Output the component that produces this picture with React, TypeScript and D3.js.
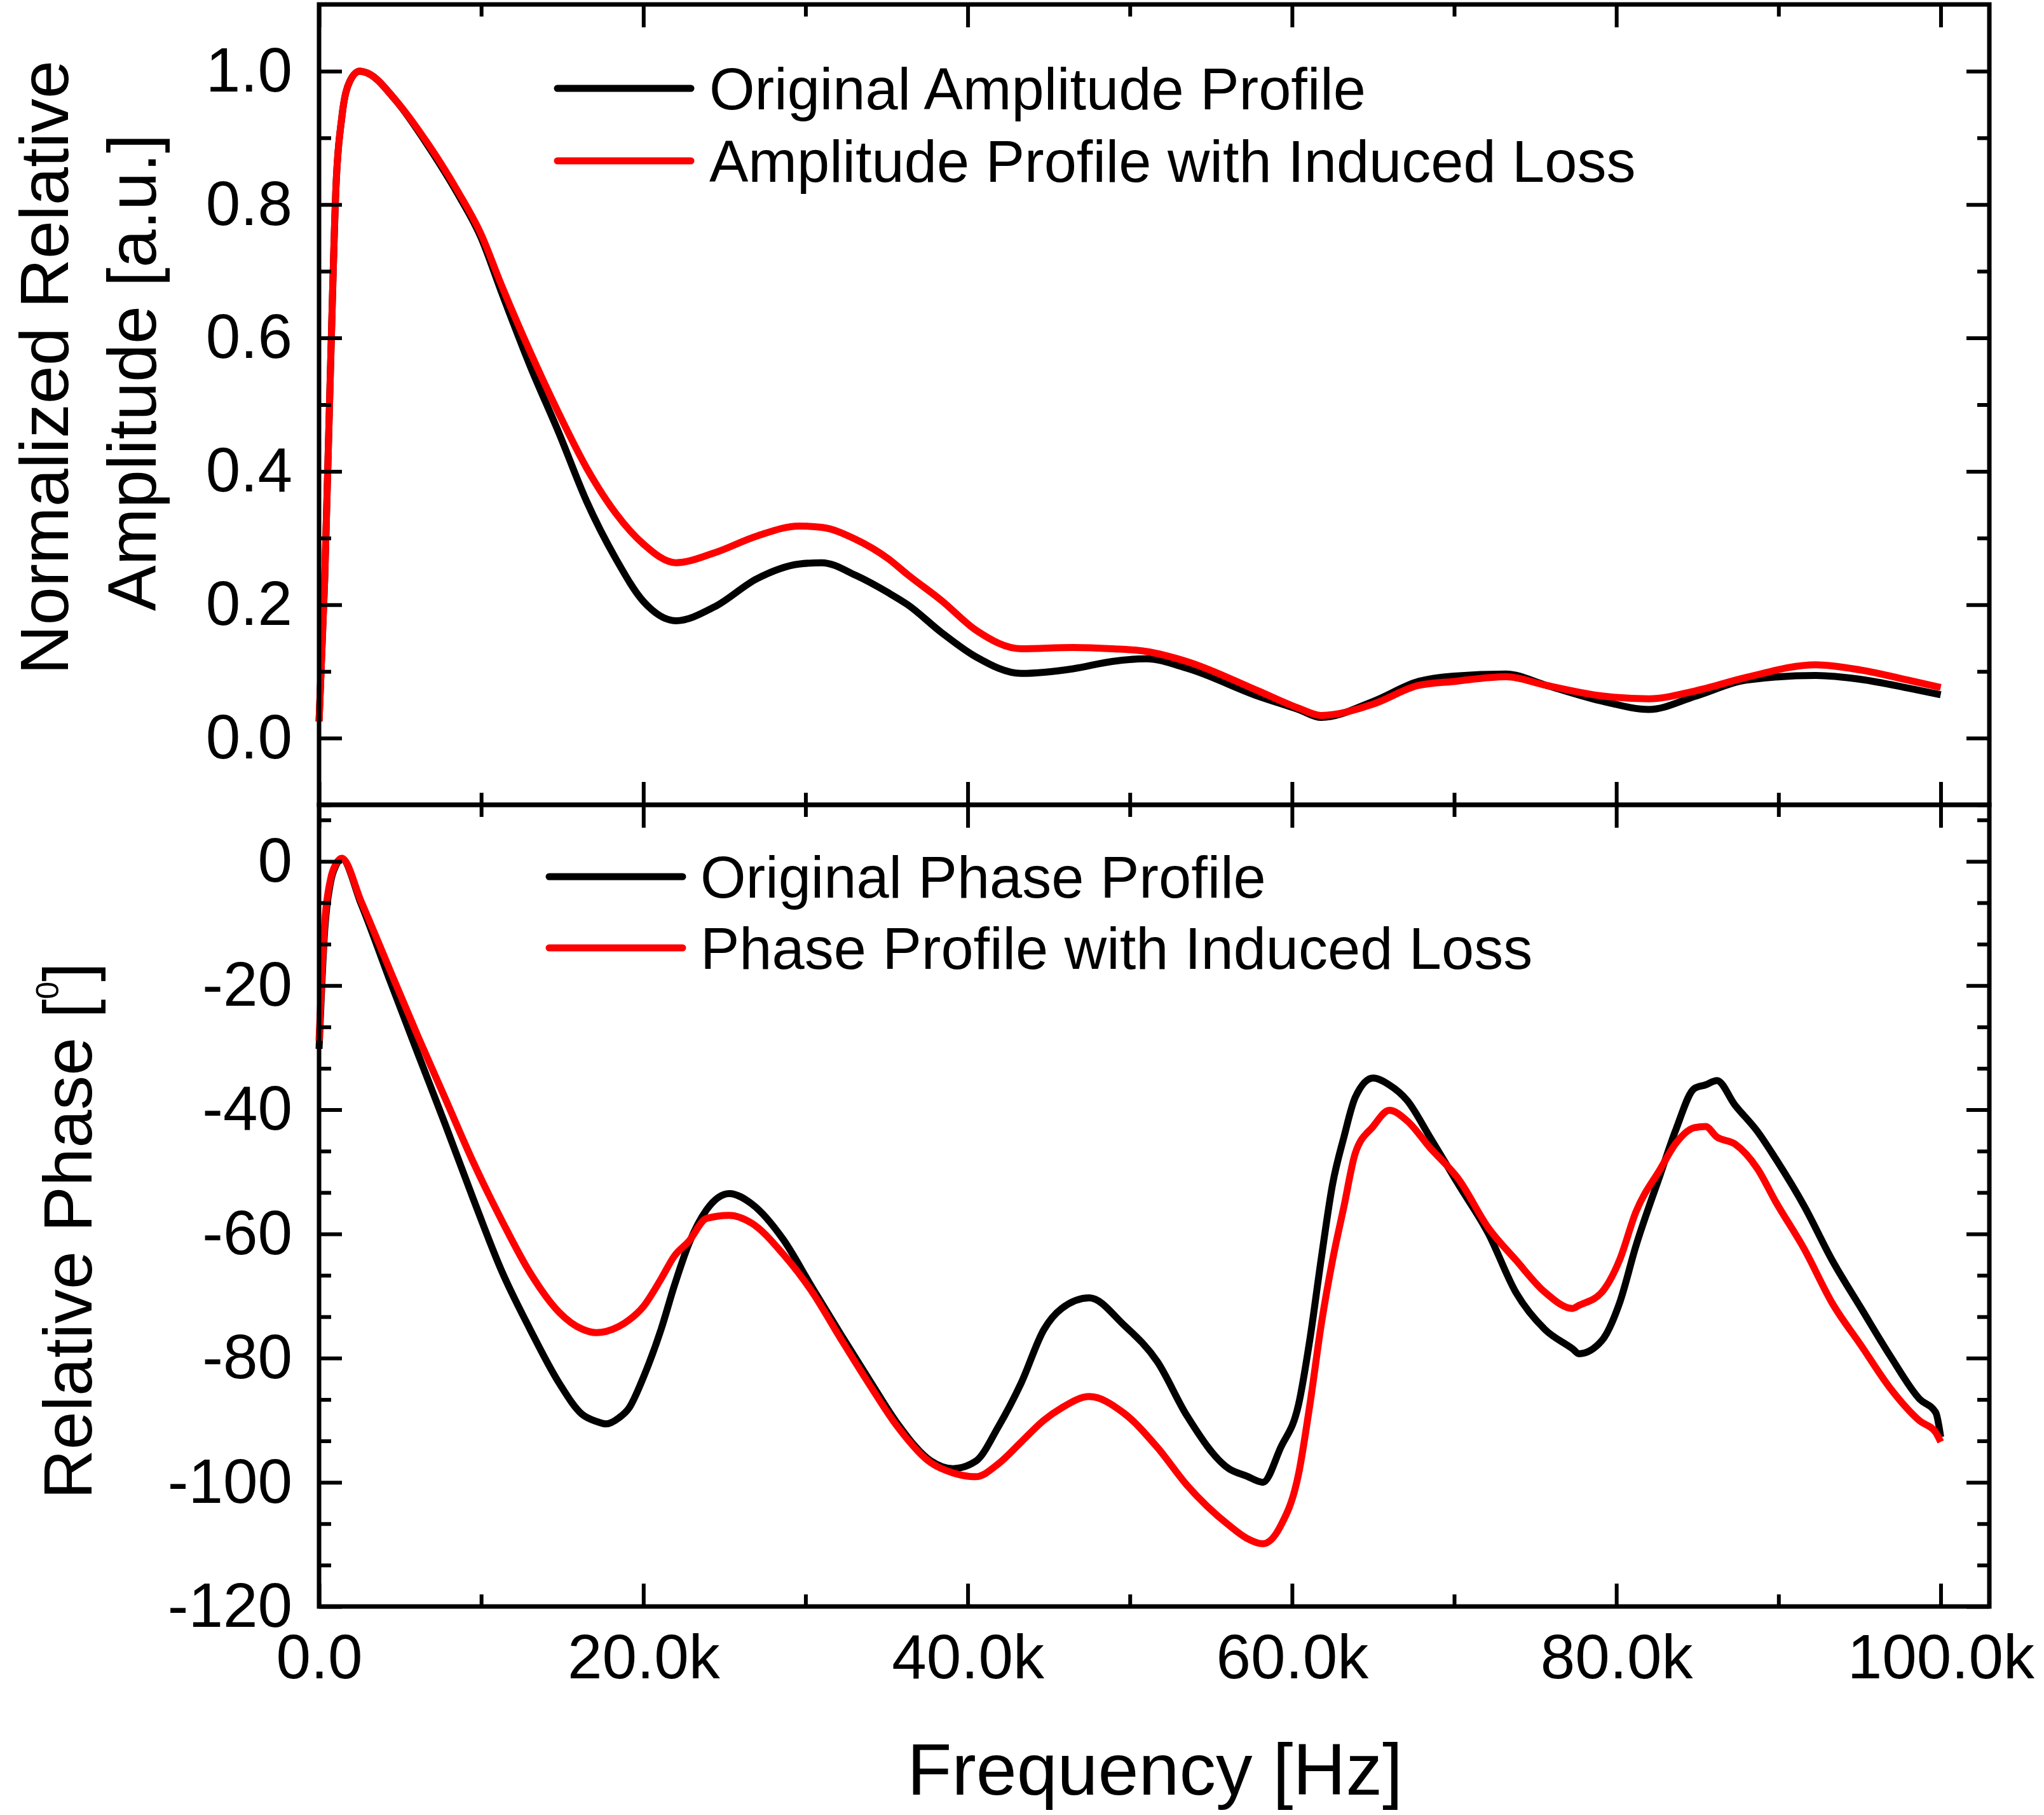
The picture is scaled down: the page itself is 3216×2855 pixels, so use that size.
import React, { useEffect, useRef } from 'react';
import * as d3 from 'd3';

// frequency grid in kHz
const ampFreq = [0, 0.35, 0.7, 1.05, 1.4, 1.9, 2.5, 3.0, 4.7, 6.8, 8.6, 10, 11.2, 13.0, 14.8, 16.5, 18.3, 20.0, 22.0, 24.4, 27.0, 29.6, 31, 33.1, 35.1, 36.3, 38.4, 40.5, 43.3, 46.5, 48.9, 51, 53.5, 57.9, 60.4, 61.8, 65, 67.8, 70, 73.2, 75.7, 79.2, 82, 84.9, 88, 92.3, 95.1, 98, 100];
const ampOriginal = [0.025, 0.24, 0.55, 0.83, 0.93, 0.985, 1.0, 0.997, 0.957, 0.885, 0.814, 0.75, 0.672, 0.559, 0.457, 0.355, 0.269, 0.205, 0.176, 0.197, 0.239, 0.261, 0.263, 0.244, 0.218, 0.2, 0.158, 0.122, 0.097, 0.104, 0.115, 0.119, 0.105, 0.063, 0.043, 0.031, 0.055, 0.085, 0.093, 0.096, 0.079, 0.055, 0.043, 0.063, 0.087, 0.094, 0.088, 0.075, 0.065];
const ampLoss = [0.025, 0.24, 0.55, 0.83, 0.93, 0.985, 1.0, 0.997, 0.957, 0.888, 0.818, 0.755, 0.682, 0.58, 0.486, 0.405, 0.337, 0.291, 0.263, 0.278, 0.303, 0.318, 0.316, 0.298, 0.269, 0.245, 0.206, 0.162, 0.134, 0.136, 0.134, 0.13, 0.115, 0.071, 0.045, 0.034, 0.051, 0.079, 0.085, 0.092, 0.079, 0.063, 0.059, 0.071, 0.091, 0.11, 0.102, 0.087, 0.076];

const phaseFreq = [0, 0.35, 0.7, 1.05, 1.4, 2.6, 4.4, 6.1, 7.8, 9.5, 11.3, 13.0, 14.8, 16.2, 17.1, 17.7, 18.5, 19.1, 20.0, 21.1, 21.9, 22.8, 23.9, 25.3, 26.7, 28.6, 30.4, 32.2, 34.0, 35.6, 37.7, 39.1, 40.5, 41.9, 43.3, 44.7, 45.8, 47.5, 49.6, 51.7, 53.5, 56.1, 57.2, 58.2, 59.3, 60.4, 61.1, 61.8, 62.5, 63.2, 63.9, 65, 66, 67.1, 68.5, 70.3, 72.1, 73.8, 75.6, 77.3, 77.7, 79.1, 80.2, 81.2, 82.7, 83.7, 84.8, 85.5, 86.2, 87.3, 88.7, 89.8, 91.6, 93.3, 95.1, 96.9, 98.7, 99.7, 100];
const phaseOriginal = [-30.2, -11, -3.5, -0.6, 0.4, -6.9, -19.4, -31, -42.5, -54.3, -66.2, -75.3, -84.0, -89.0, -90.2, -90.6, -89.6, -88.1, -83.1, -75.3, -68.4, -61.6, -56.1, -53.5, -55.2, -60.8, -68.6, -76.3, -83.8, -90.3, -96.5, -97.8, -96.6, -91, -84, -75.4, -72, -70.3, -74.6, -80.6, -89.2, -97.8, -99, -100, -94.4, -87.5, -77, -64, -52, -44.4, -38, -34.9, -36, -38.5, -44.4, -52.2, -59.9, -69.4, -75.4, -78.5, -79.3, -77.2, -71.1, -62, -50.5, -43, -36.6, -36, -35.3, -39.2, -43.5, -47.8, -55.6, -64.2, -72, -79.7, -86.6, -88.8, -92.7];
const phaseLoss = [-28.9, -9.9, -3, -0.4, 0.5, -6.5, -17.7, -28.2, -38.3, -48.4, -58.0, -66.2, -72.6, -75.3, -75.9, -75.7, -74.9, -73.9, -71.7, -67.2, -63.6, -61.2, -57.5, -57.0, -58.3, -63.2, -69.3, -77.0, -84.5, -90.8, -96.8, -98.5, -99.1, -97, -93.5, -90, -88, -86.2, -88.8, -94.4, -100.4, -106.9, -109, -109.9, -107, -98.7, -87.5, -74.6, -64.2, -55.6, -47, -42.7, -40.1, -41.8, -46.1, -51.3, -59, -64.2, -69.4, -72, -71.5, -69.4, -64.2, -56.5, -49.6, -45.3, -42.9, -42.7, -44.4, -45.5, -49.5, -54.7, -62.5, -71.1, -78, -84.9, -90.1, -92, -93.5];

const xMajor = [0, 20000, 40000, 60000, 80000, 100000];
const xMinor = [10000, 30000, 50000, 70000, 90000];
const ampMajor = [0, 0.2, 0.4, 0.6, 0.8, 1.0];
const ampMinor = [-0.1, 0.1, 0.3, 0.5, 0.7, 0.9];
const phaseMajor = [-120, -100, -80, -60, -40, -20, 0];

const ampLegend = ['Original Amplitude Profile', 'Amplitude Profile with Induced Loss'];
const phaseLegend = ['Original Phase Profile', 'Phase Profile with Induced Loss'];
const colors = ['#000000', '#ff0000'];

const W = 3216;
const H = 2855;
const FONT = '"Liberation Sans", Arial, sans-serif';

export default function App() {
  const ref = useRef<SVGSVGElement>(null);

  useEffect(() => {
    const svg = d3.select(ref.current);
    svg.selectAll('*').remove();

    const left = 502, right = 3130;
    const x = d3.scaleLinear().domain([0, 103000]).range([left, right]);
    const yAmp = d3.scaleLinear().domain([-0.1, 1.1]).range([1266, 7]);
    const yPh = d3.scaleLinear().domain([-120, 9.1]).range([2527, 1266]);

    // minor ticks every 20/3 degrees on the phase axis
    const phaseMinor = d3.range(-120, 9, 20 / 3).filter((_, i) => i % 3 !== 0);

    const styleAxis = (g: any) => {
      g.select('.domain').remove();
      g.selectAll('line').attr('stroke', '#000').attr('stroke-width', 6);
      g.selectAll('text').attr('font-family', FONT).attr('font-size', 98).attr('fill', '#000');
    };

    const addAxes = (y: any, major: number[], minor: number[], fmt: (v: number) => string, top: number, bottom: number, xLabels: boolean) => {
      // left
      svg.append('g').attr('transform', `translate(${left},0)`)
        .call(d3.axisLeft(y).tickValues(major).tickSize(-36).tickSizeOuter(0).tickPadding(42).tickFormat(fmt as any))
        .call(styleAxis);
      svg.append('g').attr('transform', `translate(${left},0)`)
        .call(d3.axisLeft(y).tickValues(minor).tickSize(-19).tickSizeOuter(0).tickFormat(() => ''))
        .call(styleAxis);
      // right
      svg.append('g').attr('transform', `translate(${right},0)`)
        .call(d3.axisRight(y).tickValues(major).tickSize(-36).tickSizeOuter(0).tickFormat(() => ''))
        .call(styleAxis);
      svg.append('g').attr('transform', `translate(${right},0)`)
        .call(d3.axisRight(y).tickValues(minor).tickSize(-19).tickSizeOuter(0).tickFormat(() => ''))
        .call(styleAxis);
      // top
      svg.append('g').attr('transform', `translate(0,${top})`)
        .call(d3.axisTop(x).tickValues(xMajor).tickSize(-36).tickSizeOuter(0).tickFormat(() => ''))
        .call(styleAxis);
      svg.append('g').attr('transform', `translate(0,${top})`)
        .call(d3.axisTop(x).tickValues(xMinor).tickSize(-19).tickSizeOuter(0).tickFormat(() => ''))
        .call(styleAxis);
      // bottom
      svg.append('g').attr('transform', `translate(0,${bottom})`)
        .call(d3.axisBottom(x).tickValues(xMajor).tickSize(-36).tickSizeOuter(0).tickPadding(43)
          .tickFormat(xLabels ? ((v: any) => (v === 0 ? '0.0' : `${(v / 1000).toFixed(1)}k`)) : () => ''))
        .call(styleAxis);
      svg.append('g').attr('transform', `translate(0,${bottom})`)
        .call(d3.axisBottom(x).tickValues(xMinor).tickSize(-19).tickSizeOuter(0).tickFormat(() => ''))
        .call(styleAxis);
      // frame
      svg.append('rect')
        .attr('x', left).attr('y', top)
        .attr('width', right - left).attr('height', bottom - top)
        .attr('fill', 'none').attr('stroke', '#000').attr('stroke-width', 7);
    };

    const drawLines = (y: any, freq: number[], series: number[][]) => {
      const line = d3.line<number>()
        .x((_, i) => x(freq[i] * 1000))
        .y((d) => y(d))
        .curve(d3.curveMonotoneX);
      series.forEach((vals, i) => {
        svg.append('path')
          .attr('d', line(vals))
          .attr('fill', 'none')
          .attr('stroke', colors[i])
          .attr('stroke-width', 11)
          .attr('stroke-linejoin', 'round');
      });
    };

    const drawLegend = (labels: string[], x0: number, x1: number, ys: number[], tx: number) => {
      labels.forEach((label, i) => {
        svg.append('line')
          .attr('x1', x0).attr('x2', x1).attr('y1', ys[i]).attr('y2', ys[i])
          .attr('stroke', colors[i]).attr('stroke-width', 11).attr('stroke-linecap', 'round');
        svg.append('text')
          .attr('x', tx).attr('y', ys[i] + 33)
          .attr('font-family', FONT).attr('font-size', 92)
          .text(label);
      });
    };

    drawLines(yAmp, ampFreq, [ampOriginal, ampLoss]);
    drawLines(yPh, phaseFreq, [phaseOriginal, phaseLoss]);

    addAxes(yAmp, ampMajor, ampMinor, (v) => v.toFixed(1), 7, 1266, false);
    addAxes(yPh, phaseMajor, phaseMinor, (v) => `${v}`, 1266, 2527, true);

    drawLegend(ampLegend, 877, 1087, [139, 253], 1116);
    drawLegend(phaseLegend, 864, 1074, [1379, 1491], 1102);

    // axis titles
    const title = (tx: number, ty: number, rot: number, size: number) =>
      svg.append('text')
        .attr('transform', `translate(${tx},${ty}) rotate(${rot})`)
        .attr('text-anchor', 'middle')
        .attr('font-family', FONT)
        .attr('font-size', size);

    title(107, 578, -90, 108).text('Normalized Relative');
    title(245, 586, -90, 108).text('Amplitude [a.u.]');
    const ph = title(144, 1936, -90, 108);
    ph.append('tspan').text('Relative Phase [');
    ph.append('tspan').attr('font-size', 50).attr('dy', -52).text('0');
    ph.append('tspan').attr('dy', 52).text(']');
    title(1817, 2823, 0, 115).text('Frequency [Hz]');
  }, []);

  return (
    <svg
      ref={ref}
      width={W}
      height={H}
      viewBox={`0 0 ${W} ${H}`}
      style={{ position: 'absolute', left: 0, top: 0, background: '#fff' }}
    />
  );
}
